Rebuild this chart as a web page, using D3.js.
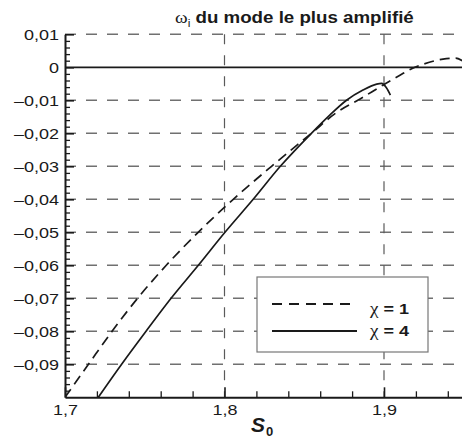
<!DOCTYPE html>
<html><head><meta charset="utf-8">
<script src="https://cdn.jsdelivr.net/npm/d3@7"></script>
<style>html,body{margin:0;padding:0;background:#fff;} svg{display:block;}</style>
</head><body><svg id="c" width="462" height="439"></svg>
<script>
// ---- data ----
const s0Chi1 = [1.700, 1.7147, 1.7295, 1.7455, 1.7635, 1.7835, 1.8055, 1.8295, 1.8545, 1.870, 1.885, 1.900, 1.910, 1.918, 1.925, 1.937, 1.945, 1.950];
const omegaChi1 = [-0.100, -0.090, -0.080, -0.070, -0.060, -0.050, -0.040, -0.030, -0.020, -0.0138, -0.0096, -0.0052, -0.0024, -0.0003, 0.0010, 0.0025, 0.0028, 0.0017];
const s0Chi4 = [1.7209, 1.7355, 1.7508, 1.7665, 1.7836, 1.8003, 1.8180, 1.8350, 1.8545, 1.866, 1.8765, 1.8868, 1.8954, 1.8985, 1.9015, 1.9040];
const omegaChi4 = [-0.100, -0.090, -0.080, -0.070, -0.060, -0.050, -0.040, -0.030, -0.020, -0.0145, -0.0100, -0.0069, -0.0051, -0.0049, -0.0062, -0.0084];
const xTickValues = [1.7, 1.8, 1.9];
const xTickLabels = ["1,7", "1,8", "1,9"];
const xGridValues = [1.8, 1.9];
const yTickValues = [0.01, 0, -0.01, -0.02, -0.03, -0.04, -0.05, -0.06, -0.07, -0.08, -0.09];
const yTickLabels = ["0,01", "0", "–0,01", "–0,02", "–0,03", "–0,04", "–0,05", "–0,06", "–0,07", "–0,08", "–0,09"];
const legendValues = ["1", "4"];
const titleRest = " du mode le plus amplifié";

// ---- setup ----
const svg = d3.select("#c");
const SANS = "'Liberation Sans', Arial, Helvetica, sans-serif";
const SERIF = "'Liberation Serif', 'Times New Roman', serif";
const INK = "#1a1a1a";
const x = d3.scaleLinear().domain([1.7, 1.95]).range([65, 463.75]);
const y = d3.scaleLinear().domain([-0.1, 0.01]).range([397.3, 34.3]);

svg.append("defs").append("clipPath").attr("id", "plot")
  .append("rect").attr("x", x(1.7)).attr("y", y(0.01))
  .attr("width", x(1.95) - x(1.7)).attr("height", y(-0.1) - y(0.01));

// grid
const gridY = yTickValues.filter(d => d !== 0);
svg.append("g").selectAll("line").data(gridY).join("line")
  .attr("x1", x(1.7)).attr("x2", x(1.95))
  .attr("y1", d => y(d)).attr("y2", d => y(d))
  .attr("stroke", "#707070").attr("stroke-width", 1.4)
  .attr("stroke-dasharray", "11,10");
svg.append("g").selectAll("line").data(xGridValues).join("line")
  .attr("x1", d => x(d)).attr("x2", d => x(d))
  .attr("y1", y(0.01)).attr("y2", y(-0.1))
  .attr("stroke", "#5a5a5a").attr("stroke-width", 1.2)
  .attr("stroke-dasharray", "10,11");
// zero line
svg.append("line").attr("x1", x(1.7)).attr("x2", x(1.95))
  .attr("y1", y(0)).attr("y2", y(0))
  .attr("stroke", INK).attr("stroke-width", 1.8);

// curves
const line = d3.line().x(d => x(d[0])).y(d => y(d[1])).curve(d3.curveMonotoneX);
const cg = svg.append("g").attr("clip-path", "url(#plot)");
cg.append("path").datum(d3.zip(s0Chi1, omegaChi1)).attr("d", line)
  .attr("fill", "none").attr("stroke", INK).attr("stroke-width", 1.7)
  .attr("stroke-dasharray", "10,6");
cg.append("path").datum(d3.zip(s0Chi4, omegaChi4)).attr("d", line)
  .attr("fill", "none").attr("stroke", INK).attr("stroke-width", 1.7);

// legend
const lg = svg.append("g");
lg.append("rect").attr("x", 257).attr("y", 277).attr("width", 171).attr("height", 75)
  .attr("fill", "#fff").attr("stroke", "#777").attr("stroke-width", 1.2);
const legendRows = [{v: legendValues[0], dash: "10,7", ly: 304, ty: 314},
                    {v: legendValues[1], dash: null, ly: 331, ty: 336}];
legendRows.forEach(r => {
  lg.append("line").attr("x1", 272).attr("x2", 357).attr("y1", r.ly).attr("y2", r.ly)
    .attr("stroke", INK).attr("stroke-width", 1.8)
    .attr("stroke-dasharray", r.dash);
  const t = lg.append("text").attr("transform", `translate(370,${r.ty}) scale(1.2,1)`)
    .attr("fill", INK);
  t.append("tspan").attr("font-family", SERIF).attr("font-size", 16).text("χ");
  t.append("tspan").attr("font-family", SANS).attr("font-weight", "bold").attr("font-size", 15)
    .text(" = " + r.v);
});

// axes: y
const yAxis = svg.append("g").attr("transform", `translate(${x(1.7)},0)`)
  .call(d3.axisLeft(y).tickValues(yTickValues).tickSize(-9).tickSizeOuter(0)
    .tickFormat((d, i) => yTickLabels[i]));
yAxis.select(".domain").attr("stroke", INK).attr("stroke-width", 2);
yAxis.selectAll(".tick line").attr("stroke", INK).attr("stroke-width", 1.6);
yAxis.selectAll(".tick text").attr("x", 0).attr("dy", 0)
  .attr("transform", "translate(-6,5.3) scale(1.2,1)")
  .attr("font-family", SANS).attr("font-size", 15).attr("fill", INK);
const yMinor = d3.range(-0.1, 0.0101, 0.002).filter(v => Math.abs(Math.round(v * 100) - v * 100) > 1e-6);
const yAxisMinor = svg.append("g").attr("transform", `translate(${x(1.7)},0)`)
  .call(d3.axisLeft(y).tickValues(yMinor).tickSize(-5).tickSizeOuter(0).tickFormat(""));
yAxisMinor.select(".domain").remove();
yAxisMinor.selectAll(".tick line").attr("stroke", INK).attr("stroke-width", 1.3);

// axes: x
const xAxis = svg.append("g").attr("transform", `translate(0,${y(-0.1)})`)
  .call(d3.axisBottom(x).tickValues(xTickValues).tickSize(-10).tickSizeOuter(0)
    .tickFormat((d, i) => xTickLabels[i]));
xAxis.select(".domain").attr("stroke", INK).attr("stroke-width", 2);
xAxis.selectAll(".tick line").attr("stroke", INK).attr("stroke-width", 1.6);
xAxis.selectAll(".tick text").attr("y", 0).attr("dy", 0)
  .attr("transform", "translate(0,18) scale(1.2,1)")
  .attr("font-family", SANS).attr("font-size", 15).attr("fill", INK);
const xMinor = d3.range(1.72, 1.951, 0.02).filter(v => Math.abs(Math.round(v * 10) - v * 10) > 1e-6);
const xAxisMinor = svg.append("g").attr("transform", `translate(0,${y(-0.1)})`)
  .call(d3.axisBottom(x).tickValues(xMinor).tickSize(-6).tickSizeOuter(0).tickFormat(""));
xAxisMinor.select(".domain").remove();
xAxisMinor.selectAll(".tick line").attr("stroke", INK).attr("stroke-width", 1.3);

// title
const title = svg.append("text").attr("transform", "translate(175,23) scale(1.2,1)").attr("fill", INK);
title.append("tspan").attr("font-family", SERIF).attr("font-size", 16).text("ω");
title.append("tspan").attr("font-family", SANS).attr("font-size", 10).attr("dy", 4).text("i");
title.append("tspan").attr("font-family", SANS).attr("font-weight", "bold").attr("font-size", 15.6)
  .attr("dy", -4).text(titleRest);

// x label
const xl = svg.append("text").attr("x", 251).attr("y", 432).attr("fill", INK)
  .attr("font-family", SANS).attr("font-weight", "bold");
xl.append("tspan").attr("font-style", "italic").attr("font-size", 21).text("S");
xl.append("tspan").attr("font-size", 13).attr("dy", 4).attr("dx", 1).text("0");
</script>
</body></html>
